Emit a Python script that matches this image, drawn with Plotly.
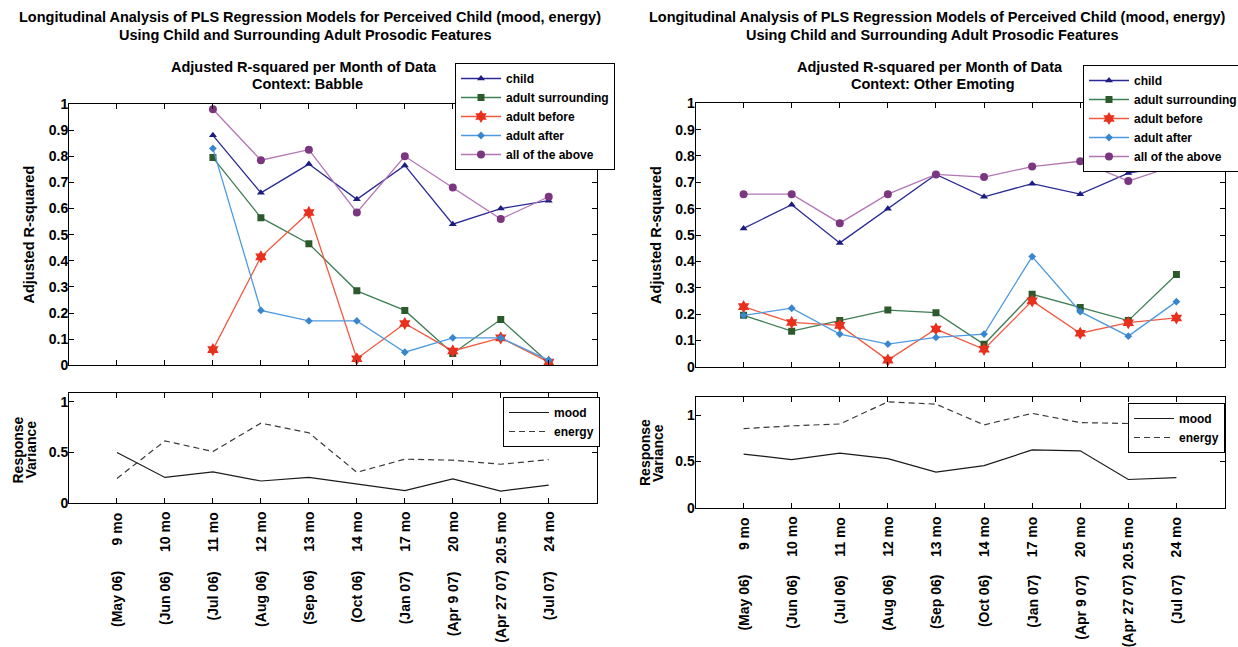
import plotly.graph_objects as go

# ---- categories -------------------------------------------------------------
months = ["9 mo", "10 mo", "11 mo", "12 mo", "13 mo", "14 mo",
          "17 mo", "20 mo", "20.5 mo", "24 mo"]
dates = ["(May 06)", "(Jun 06)", "(Jul 06)", "(Aug 06)", "(Sep 06)",
         "(Oct 06)", "(Jan 07)", "(Apr 9 07)", "(Apr 27 07)", "(Jul 07)"]

# ---- Context: Babble (adjusted R-squared) ----------------------------------
babble_child = [None, None, 0.88, 0.66, 0.77, 0.635, 0.765, 0.54, 0.60, 0.63]
babble_surrounding = [None, None, 0.795, 0.565, 0.465, 0.285, 0.21, 0.045, 0.175, 0.01]
babble_before = [None, None, 0.06, 0.415, 0.585, 0.025, 0.16, 0.055, 0.105, 0.012]
babble_after = [None, None, 0.83, 0.21, 0.17, 0.17, 0.05, 0.105, 0.105, 0.02]
babble_all = [None, None, 0.98, 0.785, 0.825, 0.585, 0.80, 0.68, 0.56, 0.645]

# ---- Context: Babble (response variance) -----------------------------------
babble_mood = [0.50, 0.255, 0.31, 0.22, 0.255, 0.19, 0.125, 0.24, 0.12, 0.18]
babble_energy = [0.245, 0.615, 0.51, 0.79, 0.695, 0.305, 0.435, 0.425, 0.385, 0.43]

# ---- Context: Other Emoting (adjusted R-squared) ---------------------------
other_child = [0.525, 0.615, 0.47, 0.60, 0.73, 0.645, 0.695, 0.655, 0.735, 0.765]
other_surrounding = [0.195, 0.135, 0.175, 0.215, 0.205, 0.085, 0.275, 0.225, 0.175, 0.35]
other_before = [0.228, 0.168, 0.157, 0.025, 0.143, 0.066, 0.25, 0.127, 0.167, 0.185]
other_after = [0.195, 0.222, 0.124, 0.086, 0.111, 0.124, 0.418, 0.209, 0.116, 0.247]
other_all = [0.655, 0.655, 0.545, 0.655, 0.73, 0.72, 0.76, 0.78, 0.705, 0.765]

# ---- Context: Other Emoting (response variance) ----------------------------
other_mood = [0.58, 0.52, 0.59, 0.53, 0.385, 0.455, 0.625, 0.615, 0.305, 0.325]
other_energy = [0.855, 0.885, 0.905, 1.145, 1.12, 0.895, 1.02, 0.92, 0.91, 0.915]

W, H = 1238, 647
FONT = "Liberation Sans, Arial, Helvetica, sans-serif"
TITLE_SIZE = 14.5
TICK_SIZE = 14


def px_x(v):
    return v / W


def px_y(v):
    return 1 - v / H


# model series styles: name, line colour, marker colour, symbol, size
styles = [
    ("child", "#2a2a96", "#1c1c80", "triangle-up", 7),
    ("adult surrounding", "#3f7f55", "#2c5a2c", "square", 7),
    ("adult before", "#f25a40", "#e8301e", "hexagram", 10),
    ("adult after", "#4d9ae0", "#3a86cc", "diamond", 6),
    ("all of the above", "#b276b4", "#7b3680", "circle", 8),
]

fig = go.Figure()

panels = [
    ("x", "y", "legend", [babble_child, babble_surrounding, babble_before, babble_after, babble_all]),
    ("x3", "y3", "legend3", [other_child, other_surrounding, other_before, other_after, other_all]),
]
for xa, ya, lg, series in panels:
    for (name, lc, mc, sym, sz), vals in zip(styles, series):
        fig.add_trace(go.Scatter(
            x=months, y=vals, name=name, mode="lines+markers",
            xaxis=xa, yaxis=ya, legend=lg, connectgaps=False,
            line=dict(color=lc, width=1.3),
            marker=dict(color=mc, symbol=sym, size=sz, line=dict(width=0)),
        ))

var_panels = [
    ("x2", "y2", "legend2", babble_mood, babble_energy),
    ("x4", "y4", "legend4", other_mood, other_energy),
]
for xa, ya, lg, mood, energy in var_panels:
    fig.add_trace(go.Scatter(x=months, y=mood, name="mood", mode="lines",
                             xaxis=xa, yaxis=ya, legend=lg,
                             line=dict(color="#1a1a1a", width=1.2)))
    fig.add_trace(go.Scatter(x=months, y=energy, name="energy", mode="lines",
                             xaxis=xa, yaxis=ya, legend=lg,
                             line=dict(color="#3a3a3a", width=1.2, dash="6px,4px")))

axis_common = dict(
    showline=True, linecolor="black", linewidth=1, mirror="ticks",
    ticks="inside", ticklen=5, tickwidth=1, tickcolor="black",
    showgrid=False, zeroline=False, fixedrange=True,
    tickfont=dict(size=TICK_SIZE, color="black", family=FONT, weight="bold"),
)
yaxis_common = dict(axis_common, ticklabelstandoff=-3)

# panel rectangles in pixels: (left, right, top, bottom)
boxes = {
    "lt": (69, 596.7, 104, 365.3),
    "lb": (69, 596.7, 392.7, 503.3),
    "rt": (695.5, 1224.5, 103.3, 366.7),
    "rb": (695.5, 1224.5, 396.7, 507.7),
}


def dom_x(b):
    return [px_x(b[0]), px_x(b[1])]


def dom_y(b):
    return [px_y(b[3]), px_y(b[2])]


cat_range = [-1, len(months)]
yt_title = dict(text="Adjusted R-squared",
                font=dict(size=TITLE_SIZE, family=FONT, weight="bold", color="black"),
                standoff=10)

fig.update_layout(
    xaxis=dict(axis_common, domain=dom_x(boxes["lt"]), anchor="y", type="category",
               categoryorder="array", categoryarray=months, range=cat_range,
               showticklabels=False),
    yaxis=dict(yaxis_common, domain=dom_y(boxes["lt"]), anchor="x", range=[0, 1],
               tick0=0, dtick=0.1, title=yt_title),
    xaxis2=dict(axis_common, domain=dom_x(boxes["lb"]), anchor="y2", type="category",
                categoryorder="array", categoryarray=months, range=cat_range,
                showticklabels=False),
    yaxis2=dict(yaxis_common, domain=dom_y(boxes["lb"]), anchor="x2", range=[0, 1.09],
                tickvals=[0, 0.5, 1], ticktext=["0", "0.5", "1"]),
    xaxis3=dict(axis_common, domain=dom_x(boxes["rt"]), anchor="y3", type="category",
                categoryorder="array", categoryarray=months, range=cat_range,
                showticklabels=False),
    yaxis3=dict(yaxis_common, domain=dom_y(boxes["rt"]), anchor="x3", range=[0, 1],
                tick0=0, dtick=0.1, title=yt_title),
    xaxis4=dict(axis_common, domain=dom_x(boxes["rb"]), anchor="y4", type="category",
                categoryorder="array", categoryarray=months, range=cat_range,
                showticklabels=False),
    yaxis4=dict(yaxis_common, domain=dom_y(boxes["rb"]), anchor="x4", range=[0, 1.2],
                tickvals=[0, 0.5, 1], ticktext=["0", "0.5", "1"]),
)

legend_common = dict(
    bgcolor="white", bordercolor="black", borderwidth=1,
    font=dict(size=12, family=FONT, weight="bold", color="black"),
    xanchor="left", yanchor="top", itemwidth=40, tracegroupgap=0,
    itemclick=False, itemdoubleclick=False,
)
fig.update_layout(
    legend=dict(legend_common, x=px_x(455), y=px_y(63)),
    legend2=dict(legend_common, x=px_x(503), y=px_y(397)),
    legend3=dict(legend_common, x=px_x(1083), y=px_y(65)),
    legend4=dict(legend_common, x=px_x(1128), y=px_y(403)),
)

annotations = []


def text_ann(x, y, text, size=TITLE_SIZE, angle=0, xanchor="center", yanchor="middle",
             xref="paper"):
    annotations.append(dict(
        x=x, y=y, xref=xref, yref="paper", text=text, showarrow=False,
        textangle=angle, xanchor=xanchor, yanchor=yanchor,
        font=dict(size=size, family=FONT, weight="bold", color="black"),
    ))


# figure titles and panel subtitles
for dx, title1 in [(0, "Longitudinal Analysis of PLS Regression Models for Perceived Child (mood, energy)"),
                   (626.5, "Longitudinal Analysis of PLS Regression Models of Perceived Child (mood, energy)")]:
    text_ann(px_x(310 + dx), px_y(17), title1)
    text_ann(px_x(305 + dx), px_y(35), "Using Child and Surrounding Adult Prosodic Features")
    text_ann(px_x(304 + dx), px_y(67), "Adjusted R-squared per Month of Data")

text_ann(px_x(307), px_y(84), "Context: Babble")
text_ann(px_x(933), px_y(84), "Context: Other Emoting")

# variance panel y titles
for cx, cy in [(17.5, 450), (645, 453)]:
    text_ann(px_x(cx), px_y(cy), "Response", size=TICK_SIZE, angle=-90)
    text_ann(px_x(cx + 13), px_y(cy), "Variance", size=TICK_SIZE, angle=-90)

# month / date labels under the variance panels
for xref, top_mo, top_date in [("x2", 510, 569), ("x4", 515, 573)]:
    for m, d in zip(months, dates):
        text_ann(m, px_y(top_mo), m, size=TICK_SIZE, angle=-90, yanchor="top", xref=xref)
        text_ann(m, px_y(top_date), d, size=TICK_SIZE, angle=-90, yanchor="top", xref=xref)

fig.update_layout(
    annotations=annotations,
    width=W, height=H,
    margin=dict(l=0, r=0, t=0, b=0, autoexpand=False),
    paper_bgcolor="white", plot_bgcolor="white",
    font=dict(family=FONT, size=13, color="black"),
)

fig.write_html("out.html")
